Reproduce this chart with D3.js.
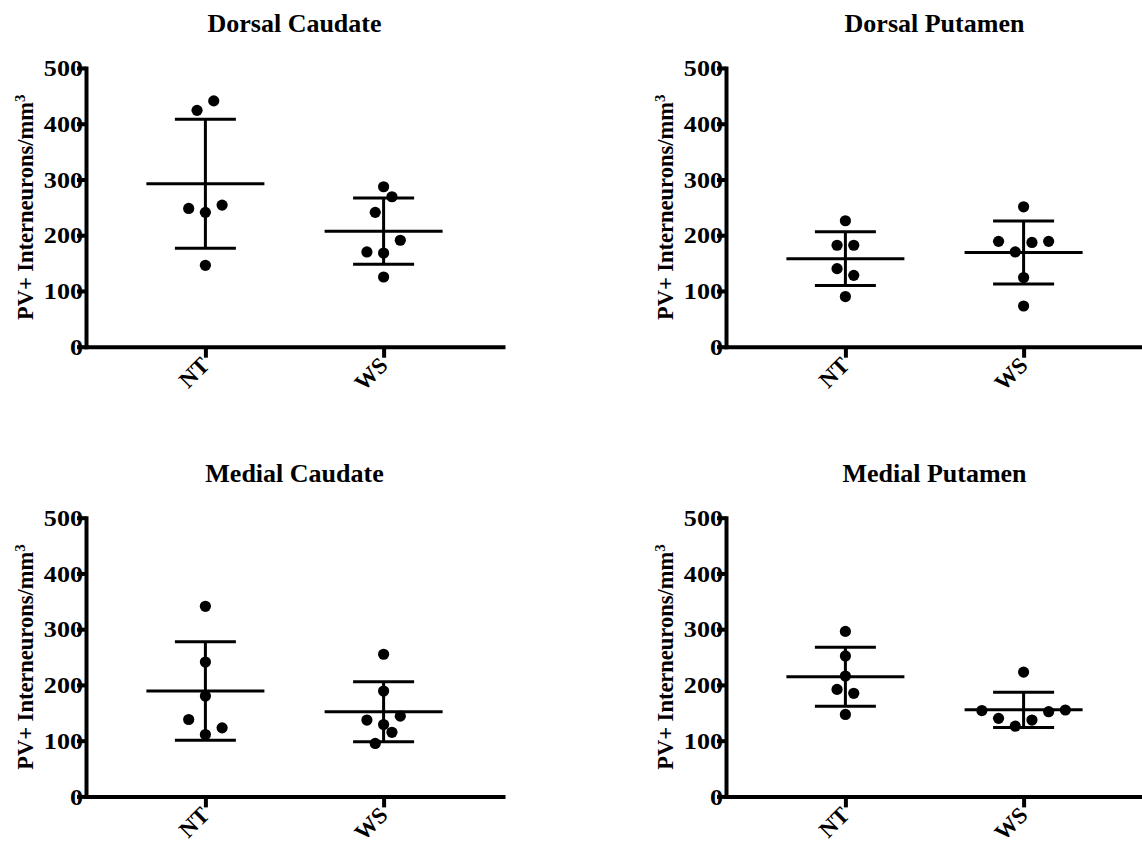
<!DOCTYPE html>
<html>
<head>
<meta charset="utf-8">
<script src="https://cdn.jsdelivr.net/npm/d3@7/dist/d3.min.js"></script>
<style>
  html, body { margin: 0; padding: 0; background: #fff; }
  svg text { font-family: "Liberation Serif", "Times New Roman", "DejaVu Serif", serif !important; font-weight: bold; fill: #000; }
</style>
</head>
<body>
<svg id="chart" width="1142" height="844"></svg>
<script>
// ---------------- data ----------------
const categories = ["NT", "WS"];
const panelTitles = ["Dorsal Caudate", "Dorsal Putamen", "Medial Caudate", "Medial Putamen"];
const yTicks = [0, 100, 200, 300, 400, 500];
const yLabel = "PV+ Interneurons/mm";
const yLabelSup = "3";

const dorsalCaudateNT = [146, 248, 241, 254, 424, 441];
const dorsalCaudateWS = [125, 170, 168, 191, 241, 269, 287];
const dorsalPutamenNT = [90, 140, 128, 182, 182, 226];
const dorsalPutamenWS = [73, 124, 189, 170, 187, 189, 251];
const medialCaudateNT = [138, 111, 123, 180, 241, 341];
const medialCaudateWS = [95, 115, 137, 129, 144, 189, 255];
const medialPutamenNT = [147, 192, 185, 216, 252, 296];
const medialPutamenWS = [154, 140, 126, 137, 152, 155, 223];

const panelSeries = [
  [dorsalCaudateNT, dorsalCaudateWS],
  [dorsalPutamenNT, dorsalPutamenWS],
  [medialCaudateNT, medialCaudateWS],
  [medialPutamenNT, medialPutamenWS]
];

// ---------------- layout ----------------
const FONT = '"Liberation Serif", "Times New Roman", "DejaVu Serif", serif';
const origins = [[86, 68], [726, 68], [86, 517.7], [726, 517.7]];
const plotW = 417, plotH = 278.7;
const dotR = 5.6;
const slotW = 16.7;      // horizontal spacing between side-by-side dots
const groupTol = 30;     // values within this range share a row
const meanHalf = 59, capHalf = 30.5;

const svg = d3.select("#chart");

const y = d3.scaleLinear().domain([0, 500]).range([plotH, 0]);
const x = d3.scalePoint().domain(categories).range([0, plotW]).padding(0.67);

// compute horizontal slots: group close values, spread each group symmetrically
function slots(values) {
  const idx = values.map((v, i) => i).sort((a, b) => values[a] - values[b]);
  const out = new Array(values.length).fill(0);
  let i = 0;
  while (i < idx.length) {
    const start = values[idx[i]];
    const grp = [];
    while (i < idx.length && values[idx[i]] - start <= groupTol) { grp.push(idx[i]); i++; }
    grp.sort((a, b) => a - b);
    const n = grp.length;
    grp.forEach((k, j) => { out[k] = j - (n - 1) / 2; });
  }
  return out;
}

panelSeries.forEach((series, p) => {
  const g = svg.append("g").attr("transform", `translate(${origins[p][0]},${origins[p][1]})`);

  // title
  g.append("text")
    .attr("x", plotW / 2).attr("y", -36)
    .attr("text-anchor", "middle")
    .style("font-family", FONT)
    .style("font-size", "26px")
    .text(panelTitles[p]);

  // y axis label
  const yl = g.append("text")
    .attr("transform", `translate(-53,${plotH / 2}) rotate(-90)`)
    .attr("text-anchor", "middle")
    .style("font-family", FONT)
    .style("font-size", "22.5px");
  yl.append("tspan").text(yLabel);
  yl.append("tspan").attr("dy", "-0.55em").style("font-size", "15px").text(yLabelSup);

  // data: error bars + points
  series.forEach((vals, c) => {
    const cx = x(categories[c]);
    const m = d3.mean(vals), sd = d3.deviation(vals);
    const eg = g.append("g").attr("stroke", "#000").attr("stroke-width", 3);
    eg.append("line").attr("x1", cx - meanHalf).attr("x2", cx + meanHalf).attr("y1", y(m)).attr("y2", y(m));
    eg.append("line").attr("x1", cx - capHalf).attr("x2", cx + capHalf).attr("y1", y(m + sd)).attr("y2", y(m + sd));
    eg.append("line").attr("x1", cx - capHalf).attr("x2", cx + capHalf).attr("y1", y(m - sd)).attr("y2", y(m - sd));
    eg.append("line").attr("x1", cx).attr("x2", cx).attr("y1", y(m + sd)).attr("y2", y(m - sd));

    const s = slots(vals);
    g.append("g").selectAll("circle").data(vals).join("circle")
      .attr("cx", (d, i) => cx + s[i] * slotW)
      .attr("cy", d => y(d))
      .attr("r", dotR)
      .attr("fill", "#000");
  });

  // y axis
  const ya = g.append("g").call(d3.axisLeft(y).tickValues(yTicks).tickSize(9).tickSizeOuter(0).tickFormat(d3.format("d")));
  ya.attr("font-family", null);
  ya.select(".domain").attr("stroke-width", 4).attr("stroke-linecap", "square");
  ya.selectAll(".tick line").attr("stroke-width", 4);
  ya.selectAll(".tick text")
    .attr("x", 0).attr("dy", "0.34em")
    .attr("transform", "translate(-3,0) scale(1.16,1)")
    .style("font-family", FONT)
    .style("font-size", "22.5px");

  // x axis
  const xa = g.append("g").attr("transform", `translate(0,${plotH})`)
    .call(d3.axisBottom(x).tickSize(11).tickSizeOuter(0));
  xa.attr("font-family", null);
  xa.select(".domain").attr("stroke-width", 4).attr("stroke-linecap", "square");
  xa.selectAll(".tick line").attr("stroke-width", 4);
  xa.selectAll(".tick text")
    .attr("x", 0).attr("y", 0).attr("dy", 0)
    .attr("transform", "translate(5,20) rotate(-45)")
    .attr("text-anchor", "end")
    .style("font-family", FONT)
    .style("font-size", "23px");
});
</script>
</body>
</html>
